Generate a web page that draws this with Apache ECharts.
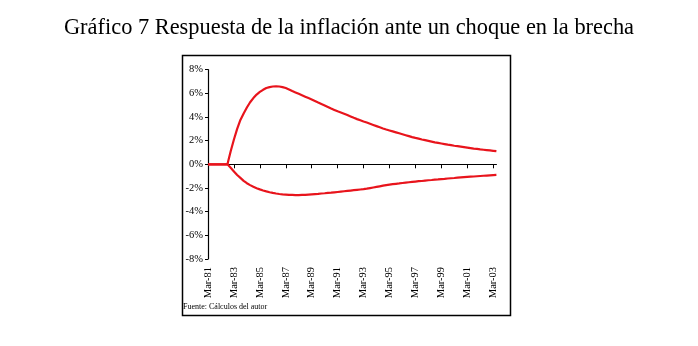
<!DOCTYPE html>
<html>
<head>
<meta charset="utf-8">
<script src="https://cdn.jsdelivr.net/npm/echarts@6/dist/echarts.min.js"></script>
<style>html,body{margin:0;padding:0;background:#fff;}#c{width:698px;height:346px;}</style>
</head>
<body>
<div id="c"></div>
<script>
// Quarterly categories Mar-81 .. Jun-03
const months = ['Mar', 'Jun', 'Sep', 'Dec'];
const categories = [];
for (let y = 81; y <= 103; y++) {
  for (let m = 0; m < 4; m++) {
    if (categories.length < 90) categories.push(months[m] + '-' + String(y % 100).padStart(2, '0'));
  }
}
const titleText = 'Gráfico 7 Respuesta de la inflación ante un choque en la brecha';
const sourceText = 'Fuente: Cálculos del autor';
const yTicks = [-8, -6, -4, -2, 0, 2, 4, 6, 8];

const upper = [0, 0, 0, 0, 0, 0, 0, 1.1, 2.1, 3.0, 3.75, 4.3, 4.8, 5.25, 5.6, 5.9,
  6.12, 6.3, 6.45, 6.53, 6.58, 6.6, 6.58, 6.53, 6.45, 6.33, 6.2, 6.08, 5.96, 5.84,
  5.72, 5.6, 5.48, 5.35, 5.22, 5.1, 4.98, 4.85, 4.72, 4.6, 4.48, 4.38, 4.28, 4.17,
  4.05, 3.93, 3.82, 3.72, 3.62, 3.53, 3.43, 3.33, 3.23, 3.13, 3.03, 2.94, 2.86, 2.78,
  2.7, 2.62, 2.54, 2.46, 2.38, 2.3, 2.23, 2.17, 2.1, 2.04, 1.98, 1.92, 1.86, 1.81,
  1.76, 1.71, 1.66, 1.62, 1.57, 1.53, 1.49, 1.45, 1.41, 1.37, 1.33, 1.3, 1.26, 1.23,
  1.2, 1.17, 1.14, 1.11];
const lower = [0, 0, 0, 0, 0, 0, 0, -0.3, -0.6, -0.9, -1.15, -1.4, -1.6, -1.76, -1.9,
  -2.02, -2.12, -2.21, -2.29, -2.36, -2.42, -2.47, -2.51, -2.54, -2.56, -2.58, -2.59,
  -2.6, -2.6, -2.59, -2.58, -2.56, -2.54, -2.52, -2.5, -2.47, -2.45, -2.42, -2.4,
  -2.37, -2.34, -2.31, -2.28, -2.25, -2.22, -2.19, -2.16, -2.13, -2.1, -2.06, -2.01,
  -1.96, -1.91, -1.86, -1.81, -1.76, -1.72, -1.68, -1.65, -1.62, -1.58, -1.55, -1.52,
  -1.49, -1.46, -1.43, -1.41, -1.38, -1.35, -1.33, -1.3, -1.28, -1.25, -1.23, -1.2,
  -1.18, -1.16, -1.13, -1.11, -1.09, -1.07, -1.05, -1.03, -1.01, -0.99, -0.97, -0.95,
  -0.93, -0.91, -0.9];

const chart = echarts.init(document.getElementById('c'), null, {renderer: 'canvas'});
const serif = '"Liberation Serif", "DejaVu Serif", serif';
chart.setOption({
  animation: false,
  backgroundColor: '#fff',
  title: {
    text: titleText, left: 'center', top: 12,
    textStyle: {fontFamily: serif, fontSize: 22.4, fontWeight: 'normal', color: '#000'}
  },
  graphic: [
    {type: 'rect', shape: {x: 182.5, y: 55.5, width: 328, height: 260},
      style: {fill: 'none', stroke: '#000', lineWidth: 1.5}, z: 0},
    {type: 'text', left: 183, top: 303,
      style: {text: sourceText, font: '8px ' + serif, fill: '#000'}}
  ],
  grid: {left: 208, right: 201.6, top: 69.7, bottom: 87.1},
  xAxis: [{
    type: 'category', data: categories, boundaryGap: false,
    axisLine: {onZero: true, lineStyle: {color: '#000', width: 1.2}},
    axisTick: {show: true, interval: 7, length: 4, inside: false, lineStyle: {color: '#000'}},
    axisLabel: {show: false},
    splitLine: {show: false}
  }, {
    type: 'category', data: categories, boundaryGap: false, position: 'bottom',
    axisLine: {show: false, onZero: false},
    axisTick: {show: false},
    axisLabel: {interval: 7, rotate: 90, margin: 8, fontFamily: serif, fontSize: 10.5, color: '#000'},
    splitLine: {show: false}
  }],
  yAxis: {
    type: 'value', min: yTicks[0], max: yTicks[yTicks.length - 1], interval: 2,
    axisLine: {show: true, onZero: false, lineStyle: {color: '#000', width: 1.2}},
    axisTick: {show: true, length: 3, lineStyle: {color: '#000'}},
    axisLabel: {formatter: '{value}%', fontFamily: serif, fontSize: 10.5, color: '#000', margin: 5},
    splitLine: {show: false}
  },
  series: [{
    type: 'line', data: upper, showSymbol: false, smooth: false,
    lineStyle: {color: '#e8141c', width: 2.2}, z: 3
  }, {
    type: 'line', data: lower, showSymbol: false, smooth: false,
    lineStyle: {color: '#e8141c', width: 2.2}, z: 3
  }]
});
</script>
</body>
</html>
